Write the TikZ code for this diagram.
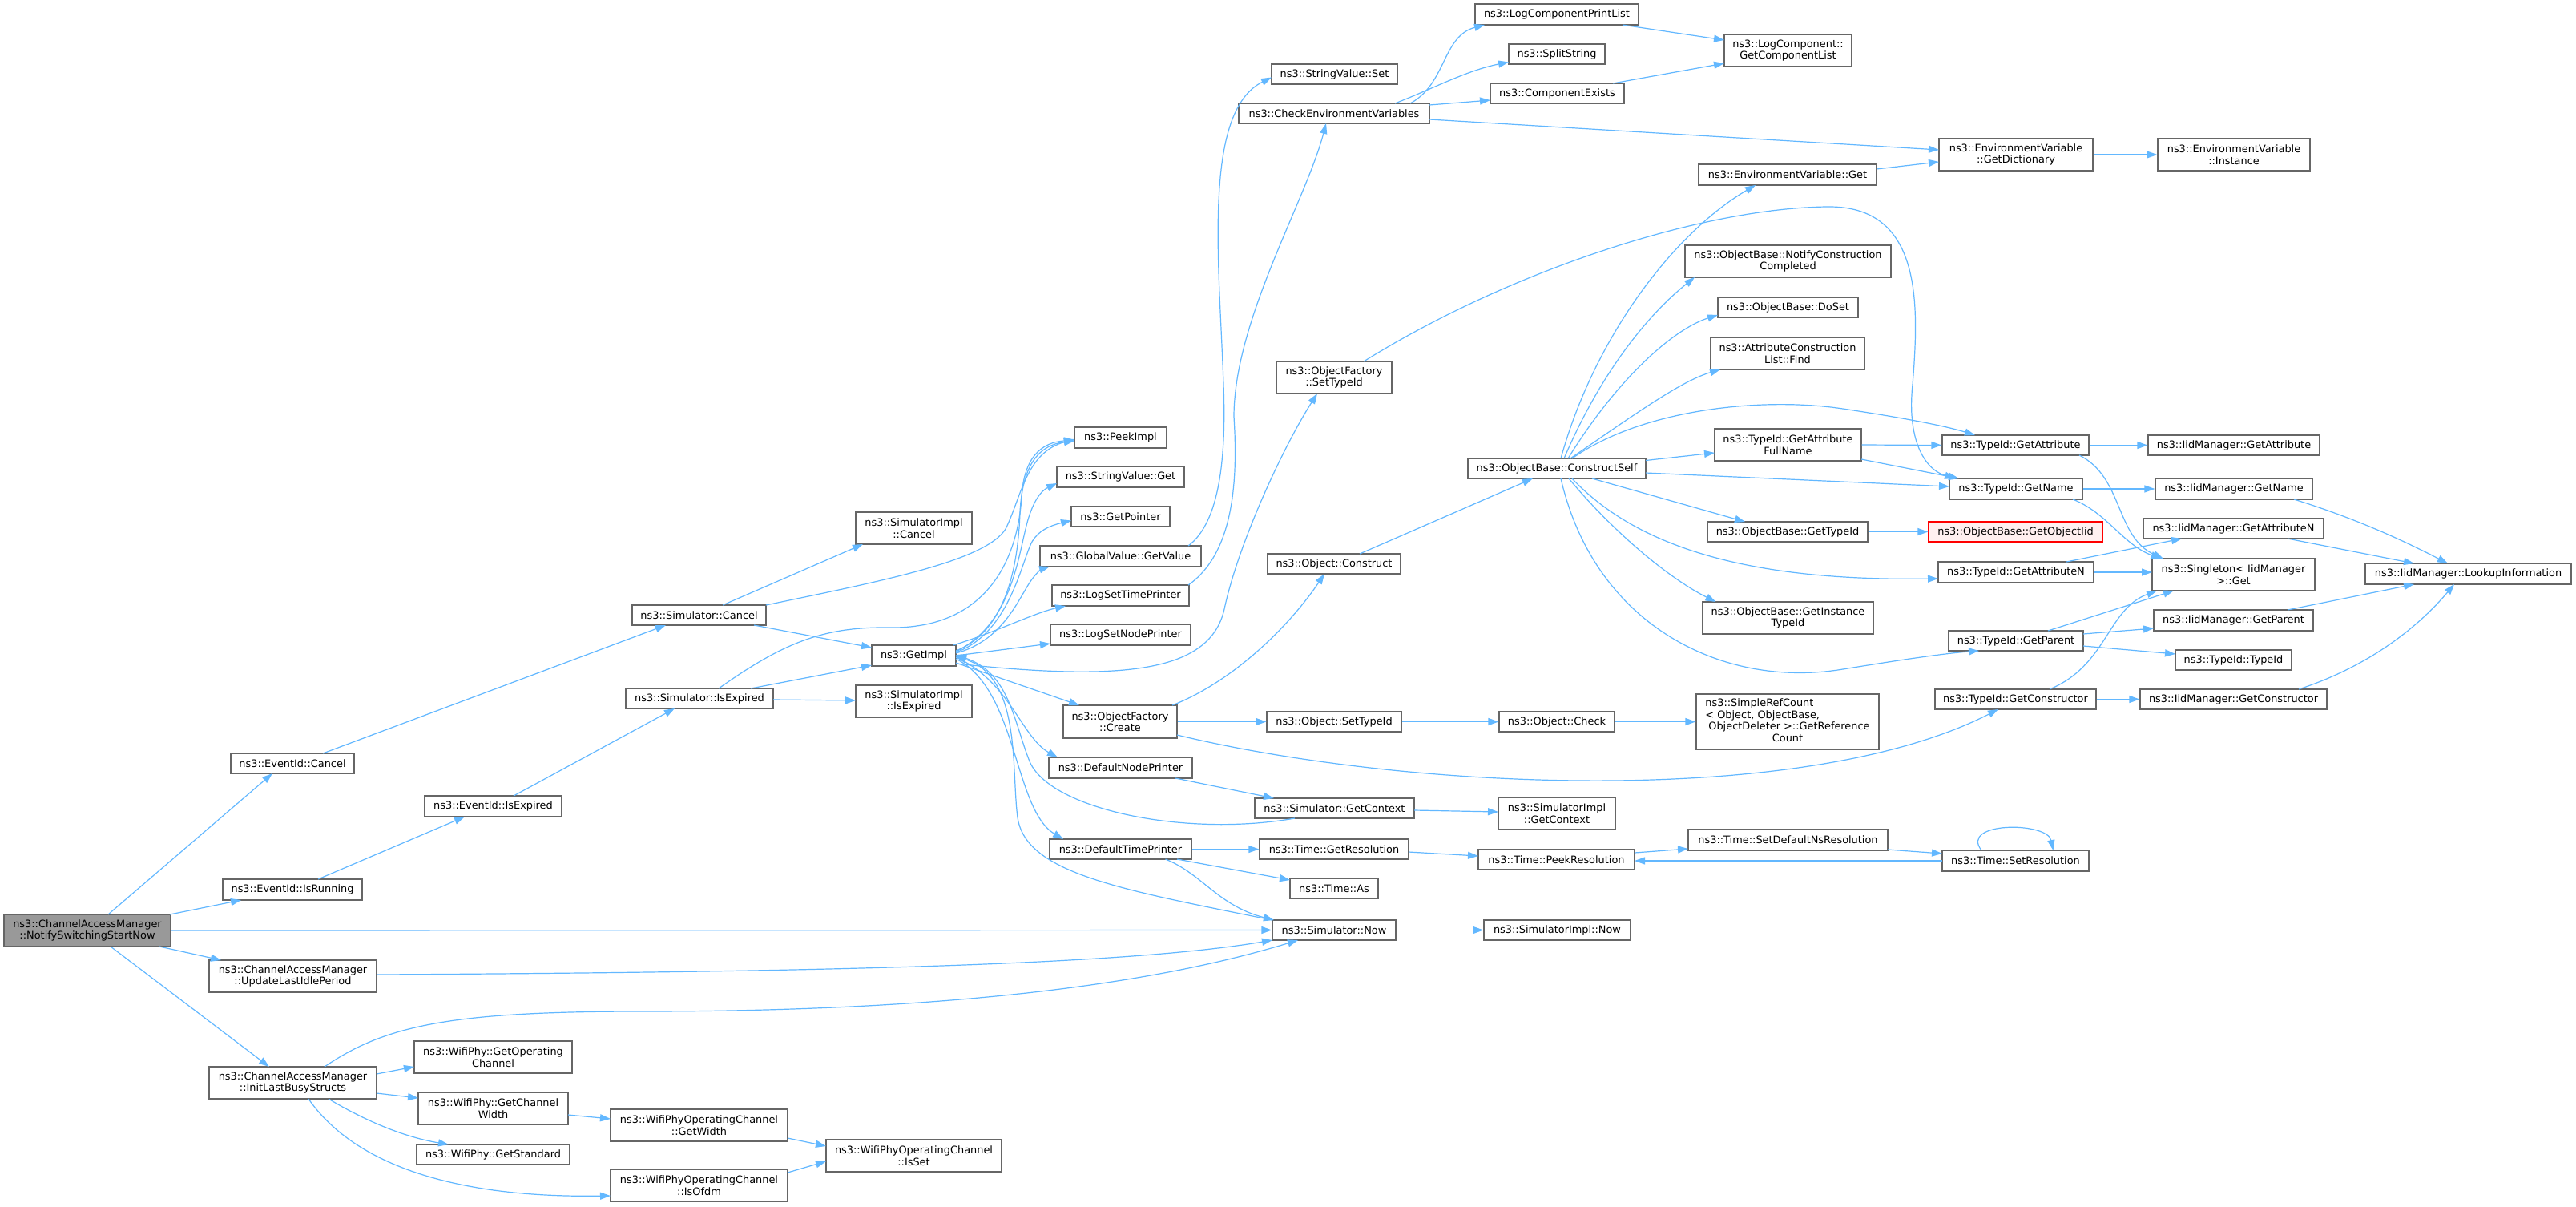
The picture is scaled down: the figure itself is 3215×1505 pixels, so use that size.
\documentclass[tikz,border=0pt]{standalone}
\usepackage{fontspec}
\setmainfont{DejaVu Sans}
\usetikzlibrary{arrows.meta}
\definecolor{eblue}{HTML}{63B8FF}
\definecolor{bgray}{HTML}{666666}
\definecolor{rootfill}{HTML}{999999}
\definecolor{redfill}{HTML}{FFF0F0}
\tikzset{
 box/.style={draw=bgray, fill=white, line width=1.2pt, inner sep=0pt, align=center, font=\fontsize{12.9}{14.5}\selectfont},
 root/.style={fill=rootfill},
 redbox/.style={draw=red, fill=redfill},
 edge/.style={draw=eblue, line width=1.2pt, -{Triangle[length=13pt,width=9pt]}},
}
\newcommand{\mybox}[6][]{\node[box,#1,minimum width=#4pt,minimum height=#5pt] (#2) at (#3) {#6};}
\begin{document}
\begin{tikzpicture}[x=1pt,y=-1pt]
\fill[white] (0,0) rectangle (3215,1505);
\useasboundingbox (0,0) rectangle (3215,1505);
% nodes
\mybox[root]{notify}{109,1161}{208}{40}{ns3::ChannelAccessManager\\::NotifySwitchingStartNow}
\mybox{evcancel}{365,952.5}{154}{25}{ns3::EventId::Cancel}
\mybox{evisrun}{365,1110}{174}{26}{ns3::EventId::IsRunning}
\mybox{updidle}{365.5,1218}{209}{40}{ns3::ChannelAccessManager\\::UpdateLastIdlePeriod}
\mybox{initbusy}{365.5,1351}{209}{40}{ns3::ChannelAccessManager\\::InitLastBusyStructs}
\mybox{getopch}{615.5,1319}{197}{40}{ns3::WifiPhy::GetOperating\\Channel}
\mybox{getchw}{615.5,1383}{187}{40}{ns3::WifiPhy::GetChannel\\Width}
\mybox{getstd}{615.5,1440.5}{191}{25}{ns3::WifiPhy::GetStandard}
\mybox{opwidth}{872.5,1404}{221}{40}{ns3::WifiPhyOperatingChannel\\::GetWidth}
\mybox{isofdm}{872.5,1479}{221}{40}{ns3::WifiPhyOperatingChannel\\::IsOfdm}
\mybox{isset}{1140.5,1442}{219}{40}{ns3::WifiPhyOperatingChannel\\::IsSet}
\mybox{evisexp}{615.5,1006}{171}{26}{ns3::EventId::IsExpired}
\mybox{simcancel}{872.5,767.5}{167}{25}{ns3::Simulator::Cancel}
\mybox{simisexp}{873,871.5}{184}{25}{ns3::Simulator::IsExpired}
\mybox{implcancel}{1140.5,659}{145}{40}{ns3::SimulatorImpl\\::Cancel}
\mybox{getimpl}{1140.5,818}{105}{26}{ns3::GetImpl}
\mybox{implisexp}{1140.5,875}{145}{40}{ns3::SimulatorImpl\\::IsExpired}
\mybox{peekimpl}{1398.5,546}{115}{26}{ns3::PeekImpl}
\mybox{svget}{1398.5,595}{159}{26}{ns3::StringValue::Get}
\mybox{getptr}{1398.5,644.5}{123}{25}{ns3::GetPointer}
\mybox{gvget}{1398.5,694}{201}{26}{ns3::GlobalValue::GetValue}
\mybox{logtime}{1398.5,743}{171}{26}{ns3::LogSetTimePrinter}
\mybox{lognode}{1398.5,792}{175}{26}{ns3::LogSetNodePrinter}
\mybox{ofcreate}{1398,900.5}{142}{41}{ns3::ObjectFactory\\::Create}
\mybox{defnode}{1398.5,958}{179}{26}{ns3::DefaultNodePrinter}
\mybox{deftime}{1398.5,1059.5}{177}{25}{ns3::DefaultTimePrinter}
\mybox{simnow}{1665,1160.5}{154}{25}{ns3::Simulator::Now}
\mybox{implnow}{1943.5,1160.5}{183}{25}{ns3::SimulatorImpl::Now}
\mybox{svset}{1665.5,92.5}{157}{25}{ns3::StringValue::Set}
\mybox{checkenv}{1665,141.5}{238}{25}{ns3::CheckEnvironmentVariables}
\mybox{ofsettid}{1665,471}{144}{40}{ns3::ObjectFactory\\::SetTypeId}
\mybox{objconstruct}{1665,703.5}{166}{25}{ns3::Object::Construct}
\mybox{objsettid}{1665,900.5}{168}{25}{ns3::Object::SetTypeId}
\mybox{simgetctx}{1665.5,1008.5}{199}{25}{ns3::Simulator::GetContext}
\mybox{getres}{1665,1059.5}{186}{25}{ns3::Time::GetResolution}
\mybox{timeas}{1665,1108.5}{110}{25}{ns3::Time::As}
\mybox{implgetctx}{1943,1015}{146}{40}{ns3::SimulatorImpl\\::GetContext}
\mybox{objcheck}{1943,900.5}{144}{25}{ns3::Object::Check}
\node[box,minimum width=228pt,minimum height=69pt] (refcount) at (2231,900.5) {\begin{tabular}{@{}l@{}}ns3::SimpleRefCount\\< Object, ObjectBase,\\\hspace{4pt}ObjectDeleter >::GetReference\\\multicolumn{1}{@{}c@{}}{Count}\end{tabular}};
\mybox{peekres}{1942.5,1072.5}{195}{25}{ns3::Time::PeekResolution}
\mybox{setdefns}{2231.5,1048}{249}{26}{ns3::Time::SetDefaultNsResolution}
\mybox{setres}{2515.5,1074}{183}{26}{ns3::Time::SetResolution}
\mybox{constructself}{1943,584.5}{222}{25}{ns3::ObjectBase::ConstructSelf}
\mybox{logprint}{1943,18}{204}{26}{ns3::LogComponentPrintList}
\mybox{splitstr}{1943,67.5}{120}{25}{ns3::SplitString}
\mybox{compexists}{1943.5,116.5}{167}{25}{ns3::ComponentExists}
\mybox{getcomplist}{2231.5,63}{159}{40}{ns3::LogComponent::\\GetComponentList}
\mybox{envget}{2231,218}{222}{26}{ns3::EnvironmentVariable::Get}
\mybox{getdict}{2516,193}{192}{40}{ns3::EnvironmentVariable\\::GetDictionary}
\mybox{envinst}{2788,193}{190}{40}{ns3::EnvironmentVariable\\::Instance}
\mybox{notifycc}{2231.5,326}{257}{40}{ns3::ObjectBase::NotifyConstruction\\Completed}
\mybox{doset}{2231.5,383.5}{175}{25}{ns3::ObjectBase::DoSet}
\mybox{acfind}{2231,441}{192}{40}{ns3::AttributeConstruction\\List::Find}
\mybox{getattrfn}{2231.5,555}{183}{40}{ns3::TypeId::GetAttribute\\FullName}
\mybox{obgettid}{2231,663.5}{200}{25}{ns3::ObjectBase::GetTypeId}
\mybox{getinsttid}{2231.5,771}{213}{40}{ns3::ObjectBase::GetInstance\\TypeId}
\mybox{tidgetattr}{2515.5,555.5}{183}{25}{ns3::TypeId::GetAttribute}
\mybox{iidgetattr}{2788,555.5}{214}{25}{ns3::IidManager::GetAttribute}
\mybox{tidgetname}{2516,610}{166}{26}{ns3::TypeId::GetName}
\mybox{iidgetname}{2788,610}{196}{26}{ns3::IidManager::GetName}
\mybox[redbox]{getobjiid}{2515.5,663.5}{217}{25}{ns3::ObjectBase::GetObjectIid}
\mybox{iidgetattrn}{2787.5,659.5}{225}{25}{ns3::IidManager::GetAttributeN}
\mybox{tidgetattrn}{2516,714}{194}{26}{ns3::TypeId::GetAttributeN}
\mybox{singleton}{2787.5,717}{203}{40}{ns3::Singleton< IidManager\\ >::Get}
\mybox{lookup}{3080.5,716}{257}{26}{ns3::IidManager::LookupInformation}
\mybox{iidgetparent}{2787.5,774}{199}{26}{ns3::IidManager::GetParent}
\mybox{tidgetparent}{2516,799.5}{168}{25}{ns3::TypeId::GetParent}
\mybox{tidtypeid}{2787.5,823.5}{145}{25}{ns3::TypeId::TypeId}
\mybox{tidgetctor}{2515.5,872.5}{201}{25}{ns3::TypeId::GetConstructor}
\mybox{iidgetctor}{2787.5,872.5}{233}{25}{ns3::IidManager::GetConstructor}
% edges
\draw[edge] ([shift={(26,-20)}]notify.center) -- ([shift={(-25,12.5)}]evcancel.center);
\draw[edge] ([shift={(103,-20)}]notify.center) -- ([shift={(-64,13)}]evisrun.center);
\draw[edge] (notify.east) -- (simnow.west);
\draw[edge] ([shift={(90,20)}]notify.center) -- ([shift={(-89.5,-20)}]updidle.center);
\draw[edge] ([shift={(29,20)}]notify.center) -- ([shift={(-29.5,-20)}]initbusy.center);
\draw[edge] ([shift={(104.5,-2)}]updidle.center) .. controls (1000,1213) and (1400,1205) .. ([shift={(-77,12.5)}]simnow.center);
\draw[edge] ([shift={(39.5,-20)}]initbusy.center) .. controls (480,1280) and (560,1262) .. (800,1262) .. controls (1200,1262) and (1450,1225) .. ([shift={(-45,12.5)}]simnow.center);
\draw[edge] ([shift={(104.5,-11)}]initbusy.center) -- ([shift={(-98.5,12)}]getopch.center);
\draw[edge] ([shift={(104.5,13)}]initbusy.center) -- ([shift={(-93.5,-13)}]getchw.center);
\draw[edge] ([shift={(44.5,20)}]initbusy.center) .. controls (450,1395) and (500,1418) .. ([shift={(-55.5,-12.5)}]getstd.center);
\draw[edge] ([shift={(19.5,20)}]initbusy.center) .. controls (440,1450) and (560,1495) .. ([shift={(-110.5,13)}]isofdm.center);
\draw[edge] ([shift={(93.5,8)}]getchw.center) -- ([shift={(-110.5,-8)}]opwidth.center);
\draw[edge] ([shift={(110.5,16)}]opwidth.center) -- ([shift={(-109.5,-12)}]isset.center);
\draw[edge] ([shift={(110.5,-16)}]isofdm.center) -- ([shift={(-109.5,7)}]isset.center);
\draw[edge] ([shift={(32,-13)}]evisrun.center) -- ([shift={(-35.5,13)}]evisexp.center);
\draw[edge] ([shift={(38,-12.5)}]evcancel.center) -- ([shift={(-41.5,12.5)}]simcancel.center);
\draw[edge] ([shift={(25.5,-13)}]evisexp.center) -- ([shift={(-31,12.5)}]simisexp.center);
\draw[edge] ([shift={(29.5,-12.5)}]simcancel.center) -- ([shift={(-63.5,20)}]implcancel.center);
\draw[edge] ([shift={(83.5,-12.5)}]simcancel.center) .. controls (1100,725) and (1230,700) .. (1255,660) .. controls (1275,620) and (1280,565) .. ([shift={(-57.5,2)}]peekimpl.center);
\draw[edge] ([shift={(68.5,12.5)}]simcancel.center) -- ([shift={(-52.5,-10)}]getimpl.center);
\draw[edge] ([shift={(64,-12.5)}]simisexp.center) -- ([shift={(-52.5,12)}]getimpl.center);
\draw[edge] ([shift={(92,1.5)}]simisexp.center) -- ([shift={(-72.5,-1)}]implisexp.center);
\draw[edge] ([shift={(24,-12.5)}]simisexp.center) .. controls (980,800) and (1030,782) .. (1110,783) .. controls (1230,785) and (1270,700) .. (1275,620) .. controls (1278,570) and (1300,552) .. ([shift={(-57.5,3)}]peekimpl.center);
\draw[edge] ([shift={(52.5,-6)}]getimpl.center) .. controls (1250,790) and (1270,720) .. (1273,640) .. controls (1276,575) and (1300,555) .. ([shift={(-57.5,4)}]peekimpl.center);
\draw[edge] ([shift={(52.5,-5)}]getimpl.center) .. controls (1260,780) and (1270,700) .. (1280,660) .. controls (1288,625) and (1300,612) .. ([shift={(-79.5,8)}]svget.center);
\draw[edge] ([shift={(52.5,-4)}]getimpl.center) .. controls (1260,790) and (1275,700) .. (1288,676) .. controls (1296,662) and (1310,656) .. ([shift={(-61.5,5)}]getptr.center);
\draw[edge] ([shift={(52.5,-3)}]getimpl.center) .. controls (1250,800) and (1270,750) .. (1285,727) .. controls (1292,716) and (1300,710) .. ([shift={(-88.5,13)}]gvget.center);
\draw[edge] ([shift={(49,-13)}]getimpl.center) .. controls (1240,790) and (1290,765) .. ([shift={(-68.5,13)}]logtime.center);
\draw[edge] ([shift={(52.5,0)}]getimpl.center) -- ([shift={(-87.5,11)}]lognode.center);
\draw[edge] ([shift={(52.5,9)}]getimpl.center) -- ([shift={(-51,-20.5)}]ofcreate.center);
\draw[edge] ([shift={(52.5,2)}]getimpl.center) .. controls (1260,850) and (1275,920) .. ([shift={(-78.5,-13)}]defnode.center);
\draw[edge] ([shift={(52.5,4)}]getimpl.center) .. controls (1270,860) and (1265,1010) .. ([shift={(-71.5,-12.5)}]deftime.center);
\draw[edge] ([shift={(52.5,10)}]getimpl.center) .. controls (1400,850) and (1510,840) .. (1528,760) .. controls (1545,680) and (1600,560) .. ([shift={(-21,20)}]ofsettid.center);
\draw[edge] ([shift={(-77,-12.5)}]simnow.center) .. controls (1400,1110) and (1280,1090) .. (1270,1020) .. controls (1262,960) and (1275,845) .. ([shift={(52.5,1)}]getimpl.center);
\draw[edge] ([shift={(-49.5,12.5)}]simgetctx.center) .. controls (1480,1045) and (1310,1010) .. (1285,950) .. controls (1265,900) and (1260,840) .. ([shift={(52.5,-1)}]getimpl.center);
\draw[edge] ([shift={(56,12.5)}]deftime.center) .. controls (1500,1090) and (1520,1130) .. ([shift={(-75,-12.5)}]simnow.center);
\draw[edge] (deftime.east) -- (getres.west);
\draw[edge] ([shift={(70.5,12.5)}]deftime.center) -- ([shift={(-55,-10.5)}]timeas.center);
\draw[edge] ([shift={(68.5,13)}]defnode.center) -- ([shift={(-75.5,-12.5)}]simgetctx.center);
\draw[edge] (ofcreate.east) -- (objsettid.west);
\draw[edge] ([shift={(65,-20.5)}]ofcreate.center) .. controls (1540,850) and (1610,780) .. ([shift={(-12,12.5)}]objconstruct.center);
\draw[edge] ([shift={(71,16.5)}]ofcreate.center) .. controls (1750,985) and (2250,1010) .. ([shift={(-21.5,12.5)}]tidgetctor.center);
\draw[edge] (objsettid.east) -- (objcheck.west);
\draw[edge] (objcheck.east) -- (refcount.west);
\draw[edge] ([shift={(32,-12.5)}]objconstruct.center) -- ([shift={(-30,12.5)}]constructself.center);
\draw[edge] ([shift={(99.5,2.5)}]simgetctx.center) -- ([shift={(-73,-2)}]implgetctx.center);
\draw[edge] ([shift={(93,3.5)}]getres.center) -- ([shift={(-97.5,-4.5)}]peekres.center);
\draw[edge] (simnow.east) -- (implnow.west);
\draw[edge] ([shift={(97.5,-8.5)}]peekres.center) -- ([shift={(-124.5,11)}]setdefns.center);
\draw[edge] ([shift={(124.5,12)}]setdefns.center) -- ([shift={(-91.5,-9)}]setres.center);
\draw[edge] ([shift={(-91.5,0)}]setres.center) -- ([shift={(97.5,1.5)}]peekres.center);
\draw[edge] ([shift={(-42.5,-13)}]setres.center) .. controls (2445,1025) and (2555,1025) .. ([shift={(47,-13)}]setres.center);
\draw[edge] ([shift={(84.5,-13)}]gvget.center) .. controls (1525,650) and (1530,560) .. (1527,480) .. controls (1522,330) and (1500,140) .. ([shift={(-78.5,4)}]svset.center);
\draw[edge] ([shift={(84.5,-13)}]logtime.center) .. controls (1540,690) and (1545,600) .. (1540,520) .. controls (1540,400) and (1630,250) .. ([shift={(-10,12.5)}]checkenv.center);
\draw[edge] ([shift={(37,-20)}]ofsettid.center) .. controls (1880,340) and (2120,260) .. (2280,258) .. controls (2400,256) and (2395,380) .. (2387,480) .. controls (2380,545) and (2400,585) .. ([shift={(-76,-13)}]tidgetname.center);
\draw[edge] ([shift={(95,-12.5)}]checkenv.center) .. controls (1805,105) and (1800,45) .. ([shift={(-90,13)}]logprint.center);
\draw[edge] ([shift={(76,-12.5)}]checkenv.center) .. controls (1790,110) and (1830,88) .. ([shift={(-60,10)}]splitstr.center);
\draw[edge] ([shift={(119,-10.5)}]checkenv.center) -- ([shift={(-83.5,8.5)}]compexists.center);
\draw[edge] ([shift={(119,7.5)}]checkenv.center) -- ([shift={(-96,-6)}]getdict.center);
\draw[edge] ([shift={(82,13)}]logprint.center) -- ([shift={(-79.5,-13)}]getcomplist.center);
\draw[edge] ([shift={(69.5,-12.5)}]compexists.center) -- ([shift={(-79.5,16)}]getcomplist.center);
\draw[edge] ([shift={(111,-7)}]envget.center) -- ([shift={(-96,9)}]getdict.center);
\draw[edge] (getdict.east) -- (envinst.west);
\draw[edge] ([shift={(5,-12.5)}]constructself.center) .. controls (1990,420) and (2090,290) .. ([shift={(-40,13)}]envget.center);
\draw[edge] ([shift={(9,-12.5)}]constructself.center) .. controls (2000,460) and (2060,390) .. ([shift={(-116.5,20)}]notifycc.center);
\draw[edge] ([shift={(14,-12.5)}]constructself.center) .. controls (2020,470) and (2090,410) .. ([shift={(-87.5,9.5)}]doset.center);
\draw[edge] ([shift={(17,-12.5)}]constructself.center) .. controls (2050,510) and (2100,475) .. ([shift={(-84,20)}]acfind.center);
\draw[edge] ([shift={(19,-12.5)}]constructself.center) .. controls (2050,510) and (2200,495) .. (2300,510) .. controls (2380,522) and (2430,532) .. ([shift={(-50.5,-12.5)}]tidgetattr.center);
\draw[edge] ([shift={(111,-10)}]constructself.center) -- ([shift={(-91.5,10)}]getattrfn.center);
\draw[edge] ([shift={(111,5.5)}]constructself.center) -- ([shift={(-83,-3)}]tidgetname.center);
\draw[edge] ([shift={(44,12.5)}]constructself.center) -- ([shift={(-53,-12.5)}]obgettid.center);
\draw[edge] ([shift={(15,12.5)}]constructself.center) .. controls (2010,660) and (2080,720) .. ([shift={(-90,-20)}]getinsttid.center);
\draw[edge] ([shift={(19,12.5)}]constructself.center) .. controls (2050,690) and (2200,725) .. ([shift={(-97,8)}]tidgetattrn.center);
\draw[edge] ([shift={(5,12.5)}]constructself.center) .. controls (1990,780) and (2150,860) .. (2300,835) .. controls (2380,822) and (2430,815) .. ([shift={(-46,12.5)}]tidgetparent.center);
\draw[edge] (getattrfn.east) -- (tidgetattr.west);
\draw[edge] ([shift={(91.5,18)}]getattrfn.center) -- ([shift={(-71,-13)}]tidgetname.center);
\draw[edge] (obgettid.east) -- (getobjiid.west);
\draw[edge] (tidgetattr.east) -- (iidgetattr.west);
\draw[edge] (tidgetname.east) -- (iidgetname.west);
\draw[edge] ([shift={(79.5,12.5)}]tidgetattr.center) .. controls (2650,595) and (2640,670) .. ([shift={(-87.5,-20)}]singleton.center);
\draw[edge] ([shift={(71,13)}]tidgetname.center) .. controls (2630,640) and (2650,680) .. ([shift={(-90,-20)}]singleton.center);
\draw[edge] (tidgetattrn.east) -- ([shift={(-101.5,-3)}]singleton.center);
\draw[edge] ([shift={(63,-13)}]tidgetattrn.center) -- ([shift={(-64.5,12.5)}]iidgetattrn.center);
\draw[edge] ([shift={(40,-12.5)}]tidgetparent.center) -- ([shift={(-74.5,20)}]singleton.center);
\draw[edge] ([shift={(84,-8.5)}]tidgetparent.center) -- ([shift={(-99.5,10)}]iidgetparent.center);
\draw[edge] ([shift={(84,6.5)}]tidgetparent.center) -- ([shift={(-72.5,-7.5)}]tidtypeid.center);
\draw[edge] ([shift={(42.5,-12.5)}]tidgetctor.center) .. controls (2630,830) and (2630,760) .. ([shift={(-95.5,20)}]singleton.center);
\draw[edge] (tidgetctor.east) -- (iidgetctor.west);
\draw[edge] ([shift={(75,13)}]iidgetname.center) .. controls (2950,650) and (3010,680) .. ([shift={(-25.5,-13)}]lookup.center);
\draw[edge] ([shift={(67.5,12.5)}]iidgetattrn.center) -- ([shift={(-67.5,-13)}]lookup.center);
\draw[edge] ([shift={(67.5,-13)}]iidgetparent.center) -- ([shift={(-67.5,13)}]lookup.center);
\draw[edge] ([shift={(81.5,-12.5)}]iidgetctor.center) .. controls (2960,830) and (3020,780) .. ([shift={(-17.5,13)}]lookup.center);
\end{tikzpicture}
\end{document}
